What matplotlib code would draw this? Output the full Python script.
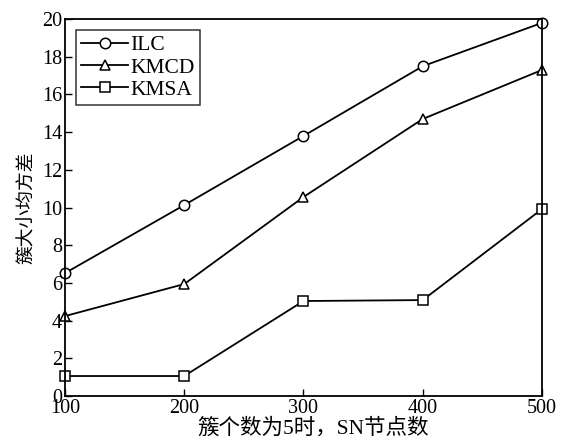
import matplotlib
matplotlib.use("Agg")
import matplotlib.pyplot as plt

plt.rcParams['font.family'] = ['Liberation Serif', 'Noto Sans CJK SC']
plt.rcParams['mathtext.fontset'] = 'stix'

nodes = [100, 200, 300, 400, 500]
ilc = [6.52, 10.13, 13.8, 17.5, 19.8]
kmcd = [4.24, 5.94, 10.56, 14.7, 17.3]
kmsa = [1.06, 1.06, 5.04, 5.09, 9.92]
series_names = ['ILC', 'KMCD', 'KMSA']
xticks = [100, 200, 300, 400, 500]
yticks = list(range(0, 21, 2))

fig = plt.figure(figsize=(5.64, 4.44), dpi=100)
ax = fig.add_axes([0.1152, 0.1081, 0.961 - 0.1152, 0.957 - 0.1081])

kw = dict(color='black', lw=1.3, markersize=7.5, markerfacecolor='white',
          markeredgecolor='black', markeredgewidth=1.1, clip_on=False)
ax.plot(nodes, ilc, marker='o', label=series_names[0], **kw)
ax.plot(nodes, kmcd, marker='^', label=series_names[1], **kw)
ax.plot(nodes, kmsa, marker='s', label=series_names[2], **kw)

ax.set_xlim(100, 500)
ax.set_ylim(0, 20)
ax.set_xticks(xticks)
ax.set_yticks(yticks)
ax.tick_params(direction='in', length=5, width=1, labelsize=14.5, pad=2)
for s in ax.spines.values():
    s.set_linewidth(1.3)

ax.set_xlabel('簇个数为5时，SN节点数', fontsize=15.5, labelpad=0)
ax.xaxis.label.set_x(0.52)
ax.set_ylabel('簇大小均方差', fontsize=13.5, labelpad=4)

leg = ax.legend(loc='upper left', fontsize=15.5, frameon=True, fancybox=False,
                edgecolor='black', handlelength=2.2, handletextpad=0.1,
                borderpad=0.25, labelspacing=0.1, borderaxespad=0.5)
leg.get_frame().set_linewidth(1.1)

fig.savefig('out.png', dpi=100)
